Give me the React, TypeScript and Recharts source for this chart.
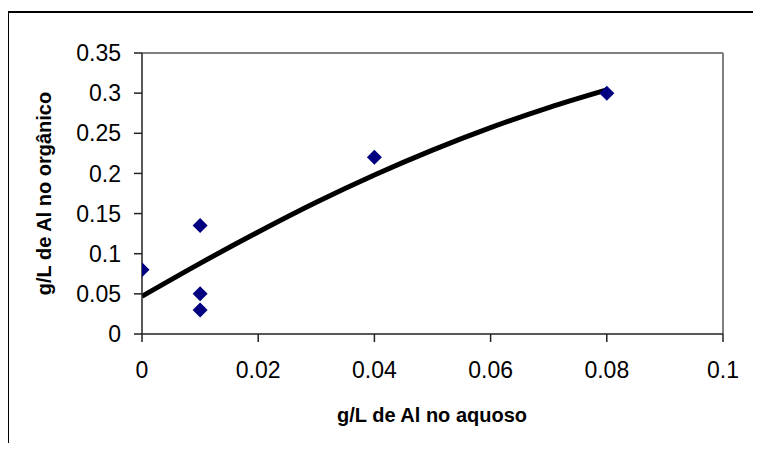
import { ComposedChart, Scatter, Line, XAxis, YAxis, ReferenceLine } from "recharts";

// measured points (g/L Al aqueous vs organic)
const aquoso = [0, 0.01, 0.01, 0.01, 0.04, 0.08];
const organico = [0.08, 0.135, 0.05, 0.03, 0.22, 0.3];

// trend curve
const trendX = [0, 0.01, 0.02, 0.03, 0.04, 0.05, 0.06, 0.07, 0.08];
const trendY = [0.047, 0.088, 0.127, 0.164, 0.198, 0.229, 0.257, 0.282, 0.304];

const xTicks = [0, 0.02, 0.04, 0.06, 0.08, 0.1];
const yTicks = [0, 0.05, 0.1, 0.15, 0.2, 0.25, 0.3, 0.35];

const points = aquoso.map((x, i) => ({ x, y: organico[i] }));
const trend = trendX.map((x, i) => ({ x, y: trendY[i] }));

const FONT = "'Liberation Sans', Arial, sans-serif";
const tickStyle = { fill: "#000", fontSize: 23, fontFamily: FONT };

const Diamond = (props: any) => {
  const { cx, cy } = props;
  const r = 7.5;
  return (
    <polygon
      points={`${cx},${cy - r} ${cx + r},${cy} ${cx},${cy + r} ${cx - r},${cy}`}
      fill="#000080"
    />
  );
};

export default function App() {
  return (
    <div style={{ position: "relative", width: 745, height: 435 }}>
      <ComposedChart
        width={745}
        height={435}
        margin={{ top: 45, right: 30, left: 0, bottom: 0 }}
      >
        <XAxis
          type="number"
          dataKey="x"
          domain={[0, 0.1]}
          ticks={xTicks}
          height={109}
          tickSize={8}
          tickMargin={20}
          tick={tickStyle}
          stroke="#222"
          strokeWidth={1.5}
          allowDataOverflow
          label={{
            content: () => (
              <text
                x={424}
                y={414}
                textAnchor="middle"
                fontFamily={FONT}
                fontWeight="bold"
                fontSize={20}
                fill="#000"
              >
                g/L de Al no aquoso
              </text>
            ),
          }}
        />
        <YAxis
          type="number"
          dataKey="y"
          domain={[0, 0.35]}
          ticks={yTicks}
          width={134}
          tickSize={8}
          tickMargin={13}
          tick={tickStyle}
          stroke="#222"
          strokeWidth={1.5}
          allowDataOverflow
          label={{
            content: () => (
              <text
                x={43}
                y={185.5}
                transform="rotate(-90 43 185.5)"
                textAnchor="middle"
                fontFamily={FONT}
                fontWeight="bold"
                fontSize={20}
                fill="#000"
              >
                g/L de Al no orgânico
              </text>
            ),
          }}
        />
        <ReferenceLine y={0.35} stroke="#808080" strokeWidth={2} ifOverflow="visible" />
        <ReferenceLine x={0.1} stroke="#808080" strokeWidth={2} ifOverflow="visible" />
        <Scatter data={points} dataKey="y" shape={<Diamond />} isAnimationActive={false} />
        <Line
          data={trend}
          dataKey="y"
          type="monotone"
          stroke="#000"
          strokeWidth={5}
          dot={false}
          activeDot={false}
          isAnimationActive={false}
        />
      </ComposedChart>
      {/* outer chart frame: top and left edges (right/bottom fall outside the window) */}
      <div
        style={{
          position: "absolute",
          left: -2,
          top: 3,
          width: 755,
          height: 2,
          background: "#000",
          zIndex: 10,
        }}
      />
      <div
        style={{
          position: "absolute",
          left: -2,
          top: 3,
          width: 3,
          height: 440,
          background: "#000",
          zIndex: 10,
        }}
      />
    </div>
  );
}
